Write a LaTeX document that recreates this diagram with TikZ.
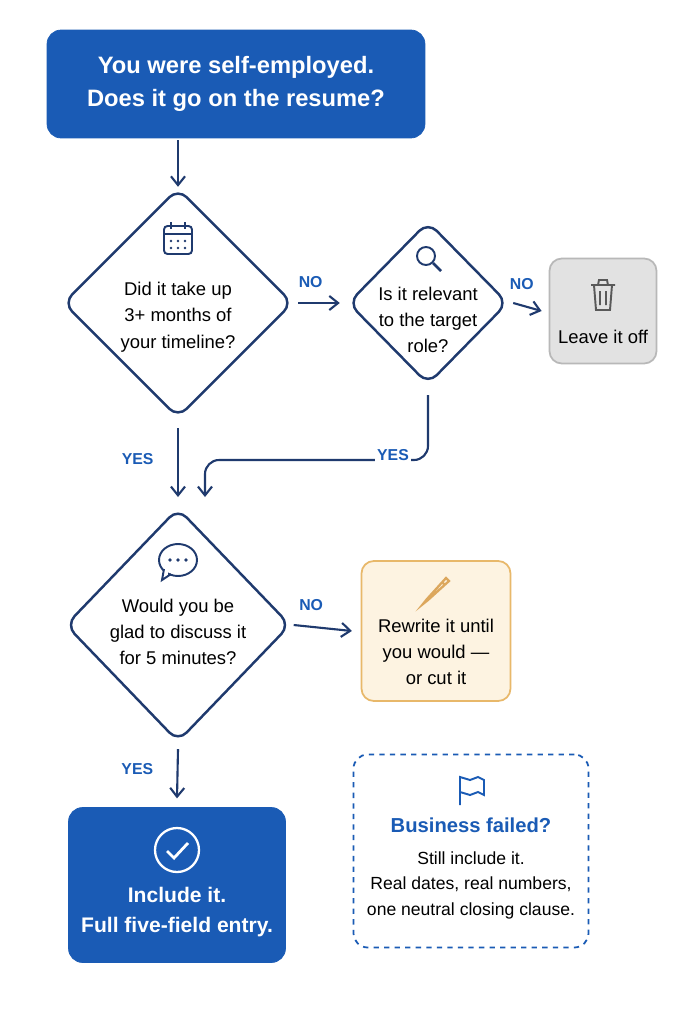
\documentclass[tikz,border=0pt]{standalone}
\usepackage{fontspec}
\setmainfont{Liberation Sans}
\usetikzlibrary{arrows.meta,shapes.geometric,positioning}
\definecolor{mainblue}{HTML}{1A5BB5}
\definecolor{navy}{HTML}{1F3A6E}
\definecolor{greyfill}{HTML}{E2E2E2}
\definecolor{greyline}{HTML}{B8B8B8}
\definecolor{creamfill}{HTML}{FDF3E1}
\definecolor{creamline}{HTML}{E8B86A}
\tikzset{
  bluebox/.style={draw=mainblue, fill=mainblue, rounded corners=8pt, text=white, font=\bfseries},
  decision/.style={diamond, draw=navy, line width=1.4pt, fill=white, rounded corners=7pt, inner sep=0pt},
  flow/.style={draw=navy, line width=1.2pt, -{Straight Barb[length=5pt,width=8pt]}},
  lbl/.style={text=mainblue, font=\small\bfseries},
  body/.style={align=center, font=\fontsize{10.5}{15}\selectfont, text=black},
  icon/.style={draw=navy, line width=1.1pt}
}
\begin{document}
\begin{tikzpicture}[x=0.02cm, y=-0.02cm]
  % canvas
  \useasboundingbox (0,0) rectangle (683,1024);
  \fill[white] (0,0) rectangle (683,1024);

  % Title
  \node[bluebox, minimum width=7.56cm, minimum height=2.16cm, align=center,
        font=\fontsize{13.5}{19}\selectfont\bfseries] (title) at (236,84)
        {You were self-employed.\\Does it go on the resume?};

  % Decisions
  \node[decision, minimum width=4.6cm, minimum height=4.6cm] (d1) at (178,303) {};
  \node[decision, minimum width=3.2cm, minimum height=3.26cm] (d2) at (428,303) {};
  \node[decision, minimum width=4.5cm, minimum height=4.68cm] (d3) at (178,625) {};
  \node[body] (t1) at (178,317) {Did it take up\\3+ months of\\your timeline?};
  \node[body] (t2) at (428,320) {Is it relevant\\to the target\\role?};
  \node[body] (t3) at (178,632) {Would you be\\glad to discuss it\\for 5 minutes?};

  % Outcome boxes
  \node[draw=greyline, fill=greyfill, rounded corners=7pt, line width=1pt,
        minimum width=2.14cm, minimum height=2.1cm] (off) at (603,311) {};
  \node[body] (offtext) at (603,337) {Leave it off};
  \node[draw=creamline, fill=creamfill, rounded corners=7pt, line width=1pt,
        minimum width=2.98cm, minimum height=2.8cm] (rew) at (436,631) {};
  \node[body] (rewtext) at (436,652) {Rewrite it until\\you would ---\\or cut it};
  \node[bluebox, minimum width=4.34cm, minimum height=3.1cm] (inc) at (177,885) {};
  \node[align=center, text=white, font=\fontsize{12}{17}\selectfont\bfseries] (inctext) at (177,912)
        {Include it.\\Full five-field entry.};
  \node[draw=mainblue, dashed, line width=1pt, rounded corners=8pt,
        minimum width=4.7cm, minimum height=3.86cm] (note) at (471,851) {};
  \node[text=mainblue, font=\fontsize{11.5}{14}\selectfont\bfseries] (notehead) at (471,825) {Business failed?};
  \node[body, font=\fontsize{10}{14.5}\selectfont] (notetext) at (471,885)
        {Still include it.\\Real dates, real numbers,\\one neutral closing clause.};

  % Icons
  \draw[icon, rounded corners=2pt] (164,226) rectangle (192,254);
  \draw[icon] (164,234) -- (192,234) (171,222) -- (171,229) (185,222) -- (185,229);
  \foreach \i in {171,178,185} \fill[navy] (\i,241) circle (1.3) (\i,248) circle (1.3);
  \draw[icon] (426,256) circle (9);
  \draw[icon, line width=1.6pt] (433,263) -- (441,271);
  \draw[icon, draw=black!65] (591,285) -- (615,285) (598,285) -- (599,280) -- (607,280) -- (608,285)
        (594,285) -- (596,310) -- (610,310) -- (612,285)
        (600,291) -- (600,305) (606,291) -- (606,305);
  \draw[icon] (178,560) ellipse (19 and 16);
  \fill[white] (163,570) rectangle (168,580);
  \draw[icon] (164,569) -- (162,580) -- (171,574);
  \foreach \i in {170,178,186} \fill[navy] (\i,560) circle (1.8);
  \draw[line width=1.3pt, creamline!70!brown] (446,578) -- (427,599) -- (423,604) -- (428,600) -- (449,581) -- cycle
        (442,582) -- (445,585);
  \draw[white, line width=1.3pt] (177,850) circle (22);
  \draw[white, line width=1.6pt] (167,851) -- (174,858) -- (188,843);
  \draw[icon, draw=mainblue] (460,805) -- (460,777) -- (470,780) -- (478,777) -- (484,780) -- (484,795) -- (478,792) -- (470,795) -- (460,792);

  % Connector ends
  \coordinate (m1) at (178,497);
  \coordinate (m2) at (205,497);
  \coordinate (bend) at (205,460);
  \coordinate (d1b) at (178,428);
  \coordinate (d2b) at (428,395);

  % Connectors
  \draw[flow] (title.south -| d1) ++(0,2) -- (d1.north);
  \draw[flow] (d1.east) ++(4,0) -- node[lbl, above=5pt, pos=0.3] {NO} ([xshift=-4pt]d2.west);
  \draw[flow] (d2.east) ++(4,0) -- node[lbl, above=5pt, pos=0.3] {NO} ([xshift=-4pt]off.west);
  \draw[flow] (d1b) -- node[lbl, left=10pt, pos=0.45] {YES} (m1);
  \draw[flow, rounded corners=8pt] (d2b) |- (bend) -- (m2);
  \node[lbl, fill=white, inner sep=1pt] (yes2) at (393,455) {YES};
  \draw[flow] (d3.east) ++(2,0) -- node[lbl, above=5pt, pos=0.3] {NO} ([xshift=-5pt]rew.west);
  \draw[flow] (d3.south) ++(0,6) -- node[lbl, left=10pt, pos=0.4] {YES} ([yshift=5pt]inc.north);
\end{tikzpicture}
\end{document}
